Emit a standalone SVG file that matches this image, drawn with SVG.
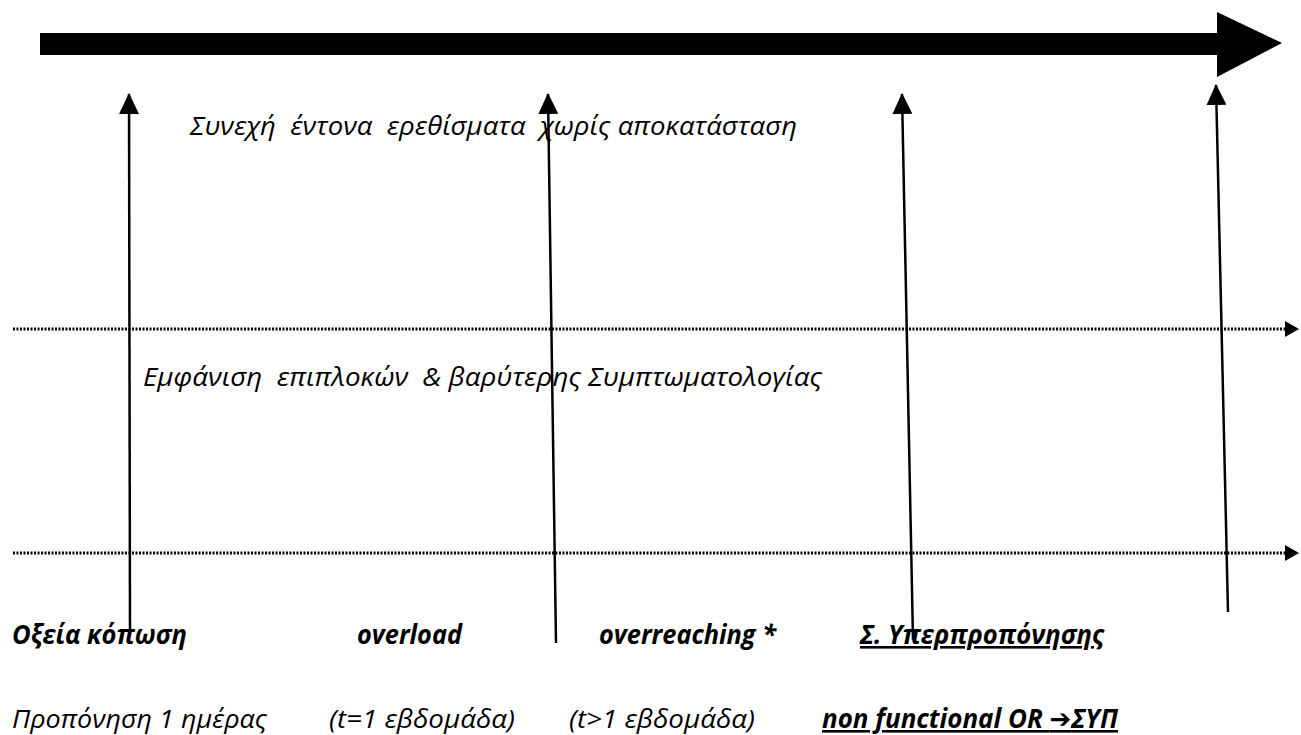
<svg xmlns="http://www.w3.org/2000/svg" width="1301" height="735" viewBox="0 0 1301 735">
<style>
.t{font-family:"Open Sans","Noto Sans","Liberation Sans",sans-serif;font-style:italic;font-size:26px;fill:#000}
.b{font-weight:bold}
.u{text-decoration:underline}
.ar{stroke:#000;stroke-width:2.5;fill:none}
.dot{stroke:#000;stroke-width:3;stroke-dasharray:2 1.5;fill:none}
</style>
<defs>
<marker id="ah" viewBox="0 0 21 20" refX="20" refY="10" markerWidth="21" markerHeight="20" markerUnits="userSpaceOnUse" orient="auto"><path d="M0,0 L21,10 L0,20 z" fill="#000"/></marker>
<marker id="dh" viewBox="0 0 14 16" refX="1" refY="8" markerWidth="14" markerHeight="16" markerUnits="userSpaceOnUse" orient="auto"><path d="M0,0 L14,8 L0,16 z" fill="#000"/></marker>
</defs>
<g id="timeline"><polygon points="40,33 1217,33 1217,12 1282,43 1217,77 1217,55 40,55" fill="#000"/></g>
<g id="levels">
<line class="dot" x1="13" y1="329" x2="1286" y2="329" marker-end="url(#dh)"/>
<line class="dot" x1="13" y1="553" x2="1286" y2="553" marker-end="url(#dh)"/>
</g>
<g id="connectors">
<line class="ar" x1="130" y1="630" x2="129" y2="94" marker-end="url(#ah)"/>
<line class="ar" x1="556" y1="643" x2="548" y2="94" marker-end="url(#ah)"/>
<line class="ar" x1="913" y1="640" x2="902" y2="94" marker-end="url(#ah)"/>
<line class="ar" x1="1228" y1="612" x2="1216" y2="85" marker-end="url(#ah)"/>
</g>
<g id="label-top"><text class="t" x="190" y="135" xml:space="preserve" textLength="607" lengthAdjust="spacingAndGlyphs">Συνεχή  έντονα  ερεθίσματα  χωρίς αποκατάσταση</text></g>
<g id="label-mid"><text class="t" x="143" y="386" xml:space="preserve" textLength="679" lengthAdjust="spacingAndGlyphs">Εμφάνιση  επιπλοκών  &amp; βαρύτερης Συμπτωματολογίας</text></g>
<g id="stage1"><text class="t b" x="12" y="644" textLength="175" lengthAdjust="spacingAndGlyphs">Οξεία κόπωση</text><text class="t" x="12" y="728" textLength="255" lengthAdjust="spacingAndGlyphs">Προπόνηση 1 ημέρας</text></g>
<g id="stage2"><text class="t b" x="357" y="644" textLength="105" lengthAdjust="spacingAndGlyphs">overload</text><text class="t" x="329" y="728" textLength="186" lengthAdjust="spacingAndGlyphs">(t=1 εβδομάδα)</text></g>
<g id="stage3"><text class="t b" x="599" y="644" textLength="177" lengthAdjust="spacingAndGlyphs">overreaching *</text><text class="t" x="569" y="728" textLength="186" lengthAdjust="spacingAndGlyphs">(t&gt;1 εβδομάδα)</text></g>
<g id="stage4"><text class="t b u" x="860" y="644" textLength="244" lengthAdjust="spacingAndGlyphs">Σ. Υπερπροπόνησης</text><text class="t b u" x="822" y="728" textLength="296" lengthAdjust="spacingAndGlyphs">non functional OR <tspan font-family="DejaVu Sans" font-style="normal" font-weight="bold">➔</tspan>ΣΥΠ</text></g>
</svg>
